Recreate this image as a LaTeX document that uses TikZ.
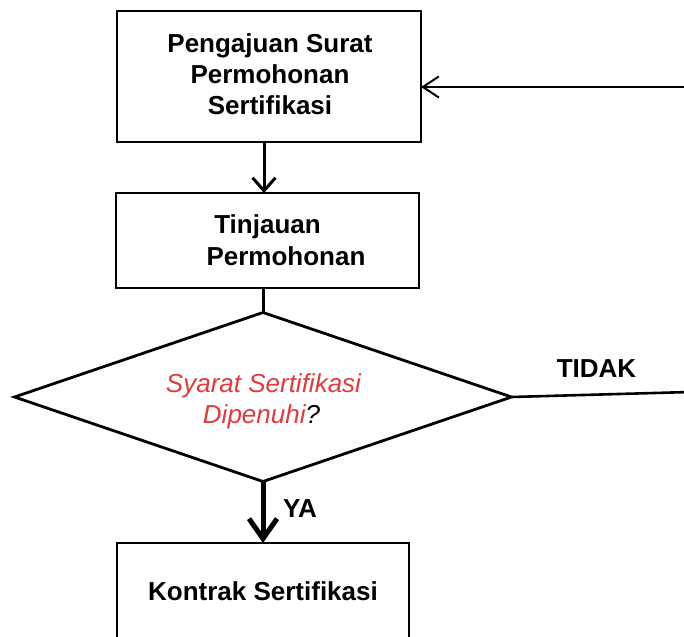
\documentclass[tikz,border=0pt]{standalone}
\usepackage{fontspec}
\setmainfont{Liberation Sans}
\usetikzlibrary{arrows.meta,shapes.geometric}
\definecolor{qred}{RGB}{226,58,60}
\begin{document}
\begin{tikzpicture}[x=1pt,y=-1pt,
  box/.style={draw, line width=2.6pt, inner sep=0pt, outer sep=0pt},
  txt/.style={font=\fontsize{26}{30}\selectfont\bfseries, anchor=base, inner sep=0pt},
  qtxt/.style={font=\fontsize{26}{30}\selectfont\itshape, anchor=base, inner sep=0pt},
  conn/.style={line width=3pt}
]
\useasboundingbox (0,0) rectangle (684,636);
\clip (0,0) rectangle (684,636);
\fill[white] (0,0) rectangle (684,636);
% boxes
\node[box, minimum width=304pt, minimum height=131pt] (b1) at (269,76.5) {};
\node[box, minimum width=303pt, minimum height=95pt] (b2) at (267.5,240.5) {};
\node[diamond, draw, line width=2.8pt, minimum width=497pt, minimum height=169pt, inner sep=0pt, outer sep=0pt] (d) at (263,397) {};
\node[box, minimum width=292pt, minimum height=140pt, anchor=north] (b3) at (263,543) {};
% texts
\node[txt] (t1a) at (270,53) {Pengajuan Surat};
\node[txt] (t1b) at (270,84) {Permohonan};
\node[txt] (t1c) at (270,115) {Sertifikasi};
\node[txt] (t2a) at (267.5,233) {Tinjauan};
\node[txt] (t2b) at (286,265) {Permohonan};
\node[qtxt, text=qred] (tqa) at (263.5,392) {Syarat Sertifikasi};
\node[qtxt] (tqb) at (261.5,423) {\textcolor{qred}{Dipenuhi}?};
\node[txt] (t3) at (263,600) {Kontrak Sertifikasi};
\node[txt] (tidak) at (596.5,377) {TIDAK};
\node[txt, anchor=base west] (ya) at (283,517) {YA};
% connectors
\draw[conn, -{Straight Barb[length=13pt,width=23pt]}] ([xshift=1pt]b1.south -| d.north) -- ([xshift=1pt]b2.north -| d.north);
\draw[conn] (b2.south -| d.north) -- (d.north);
\draw[line width=5pt, -{Straight Barb[length=20pt,width=28pt]}] (d.south) -- (b3.north);
\coordinate (rt) at (690,392);
\draw[line width=2.6pt] (d.east) -- (rt);
\coordinate (rtop) at (690,87);
\draw[line width=2pt, -{Straight Barb[length=16pt,width=21pt]}] (rtop) -- (rtop -| b1.east);
\end{tikzpicture}
\end{document}
